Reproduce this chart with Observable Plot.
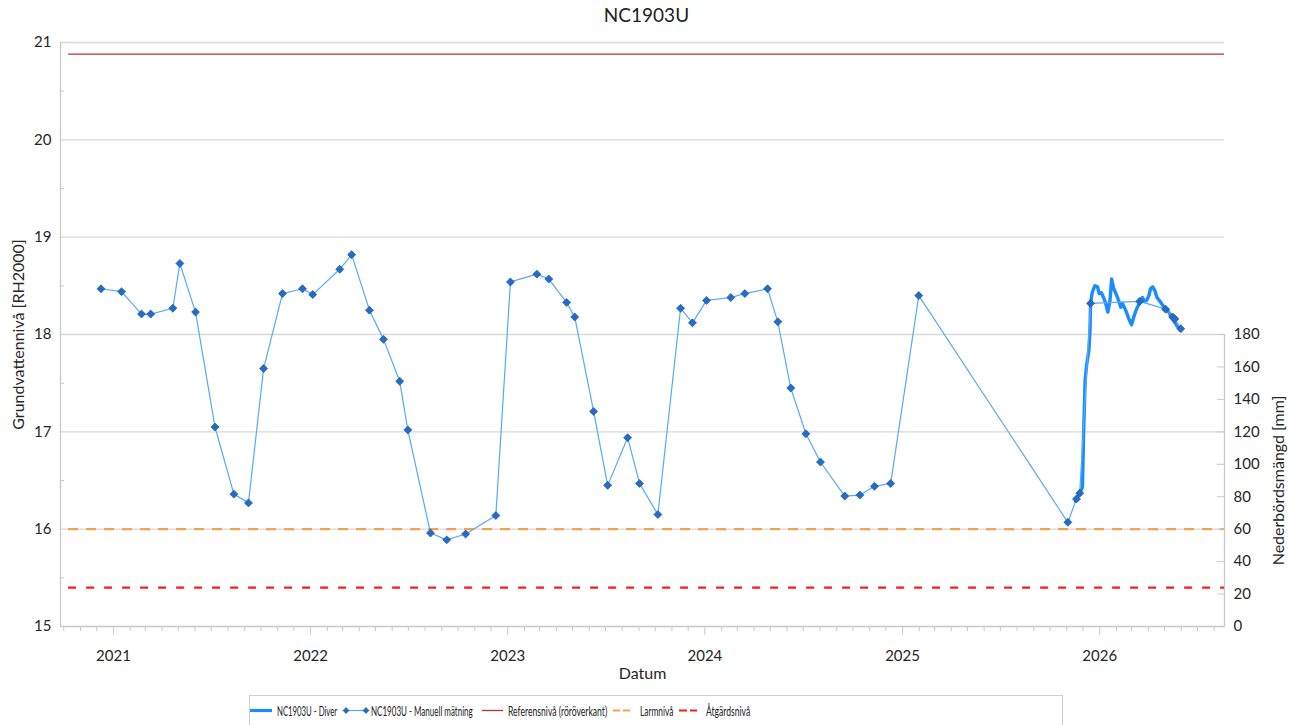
<!DOCTYPE html>
<html>
<head>
<meta charset="utf-8">
<script src="https://cdn.jsdelivr.net/npm/d3@7"></script>
<script src="https://cdn.jsdelivr.net/npm/@observablehq/plot@0.6"></script>
<style>
  body { margin: 0; background: #fff; font-family: Lato, "Open Sans", sans-serif; }
  #wrap { position: relative; width: 1298px; height: 725px; overflow: hidden; background: #fff; }
  #chart { position: absolute; left: 0; top: 0; }
  #title { position: absolute; top: 3px; left: 0; width: 1293px; text-align: center; font-size: 19px; color: #222; }
  #legend { position: absolute; left: 249px; top: 695px; }
</style>
</head>
<body>
<div id="wrap">
  <div id="chart"></div>
  <div id="title">NC1903U</div>
  <svg id="legend" width="814" height="30" font-family="Lato" font-size="14" fill="#222">
    <rect x="0.5" y="0.5" width="813" height="32" fill="#fff" stroke="#d0d0d0"/>
    <line x1="1" x2="23" y1="15.5" y2="15.5" stroke="#1a8cff" stroke-width="3.2"/>
    <text transform="translate(28,20.5) scale(0.64,1)" textLength="94" lengthAdjust="spacingAndGlyphs">NC1903U - Diver</text>
    <line x1="97" x2="117" y1="15.5" y2="15.5" stroke="#58a9f7" stroke-width="1.2"/>
    <path d="M97,12.5 L100,15.5 L97,18.5 L94,15.5Z M117,12.5 L120,15.5 L117,18.5 L114,15.5Z" fill="#1c6fd1" stroke="#32507a" stroke-width="0.6"/>
    <text transform="translate(122,20.5) scale(0.64,1)" textLength="159" lengthAdjust="spacingAndGlyphs">NC1903U - Manuell mätning</text>
    <line x1="233" x2="254" y1="15.5" y2="15.5" stroke="#b83232" stroke-width="1.3"/>
    <text transform="translate(259,20.5) scale(0.64,1)" textLength="155" lengthAdjust="spacingAndGlyphs">Referensnivå (röröverkant)</text>
    <line x1="364" x2="381" y1="15.5" y2="15.5" stroke="#f9a04b" stroke-width="2" stroke-dasharray="7,3"/>
    <text transform="translate(391,20.5) scale(0.64,1)" textLength="52" lengthAdjust="spacingAndGlyphs">Larmnivå</text>
    <line x1="430" x2="448" y1="15.5" y2="15.5" stroke="#ff1a1a" stroke-width="2" stroke-dasharray="8,3"/>
    <text transform="translate(457,20.5) scale(0.64,1)" textLength="69" lengthAdjust="spacingAndGlyphs">Åtgärdsnivå</text>
  </svg>
</div>
<script>
// ---- Data ----
const manualDates = ["2020-12-09","2021-01-16","2021-02-22","2021-03-11","2021-04-21","2021-05-04","2021-06-02","2021-07-08","2021-08-12","2021-09-08","2021-10-06","2021-11-10","2021-12-17","2022-01-05","2022-02-24","2022-03-18","2022-04-20","2022-05-16","2022-06-15","2022-06-30","2022-08-11","2022-09-10","2022-10-15","2022-12-10","2023-01-06","2023-02-24","2023-03-18","2023-04-20","2023-05-05","2023-06-09","2023-07-05","2023-08-11","2023-09-02","2023-10-06","2023-11-17","2023-12-09","2024-01-04","2024-02-18","2024-03-15","2024-04-26","2024-05-15","2024-06-08","2024-07-06","2024-08-02","2024-09-16","2024-10-14","2024-11-10","2024-12-10","2025-01-31","2025-11-03","2025-11-19","2025-11-25","2025-12-15","2026-03-16","2026-05-03","2026-05-16","2026-05-20","2026-05-31"];
const manualLevels = [18.47,18.44,18.21,18.21,18.27,18.73,18.23,17.05,16.36,16.27,17.65,18.42,18.47,18.41,18.67,18.82,18.25,17.95,17.52,17.02,15.96,15.89,15.95,16.14,18.54,18.62,18.57,18.33,18.18,17.21,16.45,16.94,16.47,16.15,18.27,18.12,18.35,18.38,18.42,18.47,18.13,17.45,16.98,16.69,16.34,16.35,16.44,16.47,18.40,16.07,16.31,16.37,18.32,18.34,18.26,18.18,18.16,18.06];

const diverDates = ["2025-11-17","2025-11-25","2025-11-30","2025-12-02","2025-12-05","2025-12-08","2025-12-12","2025-12-14","2025-12-15","2025-12-18","2025-12-23","2025-12-28","2025-12-31","2026-01-04","2026-01-08","2026-01-12","2026-01-16","2026-01-20","2026-01-23","2026-01-27","2026-02-03","2026-02-09","2026-02-12","2026-02-18","2026-02-24","2026-03-01","2026-03-05","2026-03-10","2026-03-16","2026-03-21","2026-03-25","2026-03-29","2026-04-02","2026-04-05","2026-04-09","2026-04-13","2026-04-17","2026-04-24","2026-04-30","2026-05-06","2026-05-12","2026-05-18","2026-05-24","2026-05-31"];
const diverLevels = [16.29,16.37,16.43,16.95,17.53,17.70,17.84,18.04,18.32,18.43,18.50,18.49,18.42,18.43,18.38,18.32,18.23,18.35,18.57,18.47,18.38,18.28,18.32,18.25,18.16,18.10,18.18,18.26,18.33,18.38,18.34,18.35,18.40,18.47,18.49,18.45,18.38,18.33,18.28,18.25,18.20,18.14,18.09,18.05];

const levelNames = ["Referensnivå (röröverkant)", "Larmnivå", "Åtgärdsnivå"];
const levelValues = [20.88, 16.0, 15.4];
const levelColors = ["#b83232", "#f9a04b", "#ff1a1a"];
const levelDashes = ["none", "10,8", "8,10"];
const levelWidths = [1.3, 2.2, 2.2];
const levelStart = "2020-10-10";
const levelEnd = "2026-08-20";

const xDomain = ["2020-09-25", "2026-08-20"];
const yearTicks = ["2021-01-01","2022-01-01","2023-01-01","2024-01-01","2025-01-01","2026-01-01"];
const yTicks = [15, 16, 17, 18, 19, 20, 21];
const yMinorTicks = [15.5, 16.5, 17.5, 18.5, 19.5, 20.5];
const precipTicks = [0, 20, 40, 60, 80, 100, 120, 140, 160, 180];
const precipMax = 180; // mm at left level 18

const title = "NC1903U";
const xLabel = "Datum";
const yLabel = "Grundvattennivå [RH2000]";
const y2Label = "Nederbördsmängd [mm]";

// ---- Build tables ----
const parse = d3.utcParse("%Y-%m-%d");
const manual = manualDates.map((d, i) => ({date: parse(d), level: manualLevels[i]}));
const diver = diverDates.map((d, i) => ({date: parse(d), level: diverLevels[i]}));
const levels = levelNames.map((n, i) => ({name: n, value: levelValues[i], start: parse(levelStart), end: parse(levelEnd)}));
const x0 = parse(xDomain[0]), x1 = parse(xDomain[1]);
const years = yearTicks.map(parse);
const months = d3.utcMonth.range(x0, x1).filter(d => d.getUTCMonth() !== 0);
// secondary (precipitation) axis: 0..180 mm mapped onto 15..18
const precipPos = precipTicks.map(v => 15 + v * 3 / precipMax);
const precipFmt = d => String(Math.round((d - 15) * precipMax / 3));
const blank = () => "";

const axisColor = "#c8c8c8";

const chart = Plot.plot({
  width: 1298,
  height: 695,
  marginLeft: 60,
  marginRight: 74,
  marginTop: 42,
  marginBottom: 69,
  style: {fontFamily: "Lato, sans-serif", fontSize: "15px", color: "#262626", background: "transparent"},
  x: {type: "utc", domain: [x0, x1]},
  y: {domain: [15, 21]},
  marks: [
    Plot.gridY(yTicks.slice(1), {stroke: "#d9d9d9", strokeOpacity: 1, strokeWidth: 1.3}),
    Plot.ruleX([x0], {y1: 15, y2: 21, stroke: axisColor, strokeWidth: 1.3}),
    Plot.ruleY([15], {stroke: axisColor, strokeWidth: 1.3}),
    Plot.ruleX([x1], {y1: 15, y2: 18, stroke: axisColor, strokeWidth: 1.3}),
    ...levels.map((l, i) => Plot.ruleY([l], {
      y: "value", x1: "start", x2: "end",
      stroke: levelColors[i], strokeWidth: levelWidths[i], strokeDasharray: levelDashes[i]
    })),
    Plot.line(diver, {x: "date", y: "level", stroke: "#1a8cff", strokeWidth: 3.4, curve: "linear"}),
    Plot.line(manual, {x: "date", y: "level", stroke: "#58a9f7", strokeWidth: 1.2}),
    Plot.dot(manual, {x: "date", y: "level", symbol: "diamond2", r: 3.6, fill: "#1c6fd1", stroke: "#32507a", strokeWidth: 0.7}),
    // left axis
    Plot.axisY(yTicks, {anchor: "left", tickSize: 0, tickPadding: 9, tickFormat: d => String(d), fontSize: 15, label: null}),
    Plot.axisY(yMinorTicks, {anchor: "left", tickSize: 4, dx: 4, stroke: axisColor, tickFormat: blank, label: null}),
    // right (precipitation) axis
    Plot.axisY(precipPos, {anchor: "right", tickSize: 8, dx: -8, stroke: axisColor, tickFormat: blank, label: null}),
    Plot.axisY(precipPos, {anchor: "right", tickSize: 0, tickPadding: 9, tickFormat: precipFmt, fontSize: 15, label: null}),
    // bottom axis
    Plot.axisX(months, {anchor: "bottom", tickSize: 5, stroke: axisColor, tickFormat: blank, label: null}),
    Plot.axisX(years, {anchor: "bottom", tickSize: 9, stroke: axisColor, tickFormat: blank, label: null}),
    Plot.axisX(years, {anchor: "bottom", tickSize: 0, tickPadding: 24, tickFormat: d3.utcFormat("%Y"), fontSize: 15, label: null}),
    // labels
    Plot.text([xLabel], {frameAnchor: "bottom", dy: 52, fontSize: 16, fill: "#262626"}),
    Plot.text([yLabel], {frameAnchor: "left", textAnchor: "middle", dx: -42, rotate: -90, fontSize: 16, fill: "#262626"}),
    Plot.text([y2Label], {frameAnchor: "right", textAnchor: "middle", y: () => 16.5, dx: 54, rotate: -90, fontSize: 16, fill: "#262626"})
  ]
});
document.getElementById("chart").appendChild(chart);
document.getElementById("title").textContent = title;
</script>
</body>
</html>
